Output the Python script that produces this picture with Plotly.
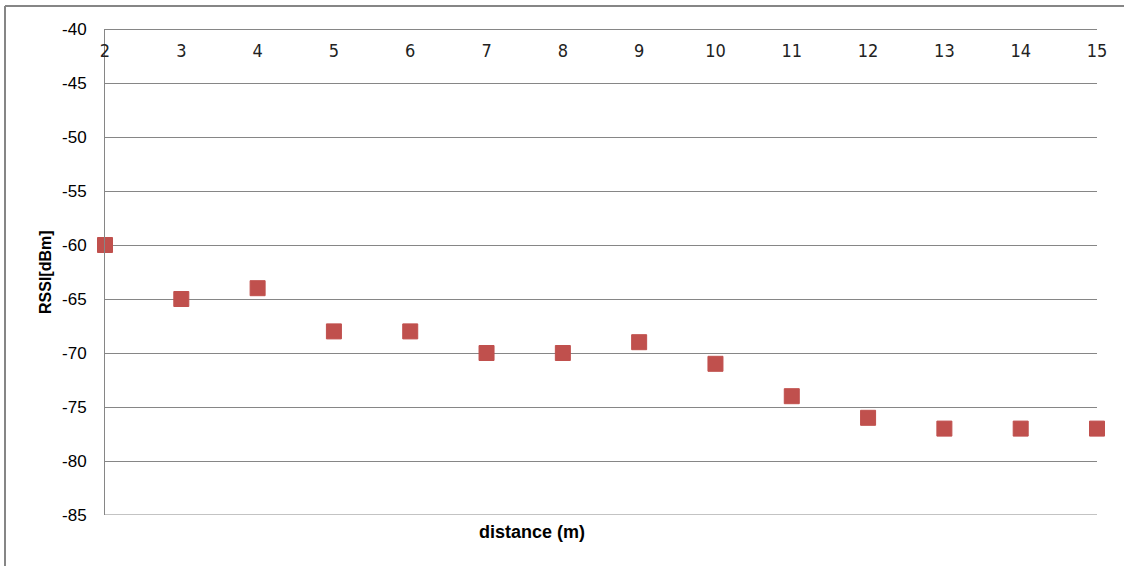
import plotly.graph_objects as go

distance = [2, 3, 4, 5, 6, 7, 8, 9, 10, 11, 12, 13, 14, 15]
rssi = [-60, -65, -64, -68, -68, -70, -70, -69, -71, -74, -76, -77, -77, -77]
x_ticks = list(range(2, 16))
y_ticks = list(range(-85, -39, 5))
y_ticktext = [str(v) for v in y_ticks]

fig = go.Figure()
fig.add_trace(go.Scatter(
    x=distance, y=rssi, mode="markers",
    marker=dict(symbol="square", size=15, color="#C0504D",
                line=dict(color="#C0504D", width=1)),
    cliponaxis=False, showlegend=False,
))

W, H = 1124, 566
L, R, T, B = 105, 27, 29, 51
pw, ph = W - L - R, H - T - B

def px(x):
    return (x - L) / pw

def py(y):
    return (H - B - y) / ph

fig.update_layout(
    width=W, height=H,
    margin=dict(l=L, r=R, t=T, b=B),
    paper_bgcolor="white", plot_bgcolor="white",
    font=dict(family="Liberation Sans, Arial, sans-serif", color="#000000"),
    xaxis=dict(
        range=[2, 15], side="bottom", anchor="free", position=1.0,
        tickvals=x_ticks, ticks="", showgrid=False,
        showline=True, linecolor="#868686", linewidth=1,
        zeroline=False,
        tickfont=dict(size=18, color="#222",
                      family="Liberation Sans Narrow, DejaVu Sans Condensed, sans-serif"),
        ticklabelstandoff=5, fixedrange=True,
    ),
    yaxis=dict(
        range=[-85, -40], tickvals=y_ticks, ticktext=y_ticktext, ticks="",
        showgrid=True, gridcolor="#868686", gridwidth=1,
        showline=True, linecolor="#868686", linewidth=1,
        zeroline=False, tickfont=dict(size=17, color="#000"),
        ticklabelstandoff=14, fixedrange=True,
    ),
    annotations=[
        dict(text="<b>distance (m)</b>", x=px(532), y=py(532),
             xref="paper", yref="paper", showarrow=False,
             xanchor="center", yanchor="middle",
             font=dict(size=18, color="#000")),
        dict(text="<b>RSSI[dBm]</b>", x=px(45), y=py(272),
             xref="paper", yref="paper", showarrow=False, textangle=-90,
             xanchor="center", yanchor="middle",
             font=dict(size=16, color="#000")),
    ],
    shapes=[
        dict(type="line", xref="paper", yref="y",
             x0=0, x1=1, y0=-85, y1=-85, layer="below",
             line=dict(color="#868686", width=1)),
        dict(type="line", xref="paper", yref="paper",
             x0=px(5), x1=px(5), y0=py(570), y1=py(6),
             line=dict(color="#868686", width=2)),
        dict(type="line", xref="paper", yref="paper",
             x0=px(5), x1=px(1130), y0=py(6), y1=py(6),
             line=dict(color="#868686", width=2)),
    ],
)

fig.write_html("out.html", config={"displayModeBar": False},
               post_script="document.body.style.margin='0';document.body.style.overflow='hidden';")
